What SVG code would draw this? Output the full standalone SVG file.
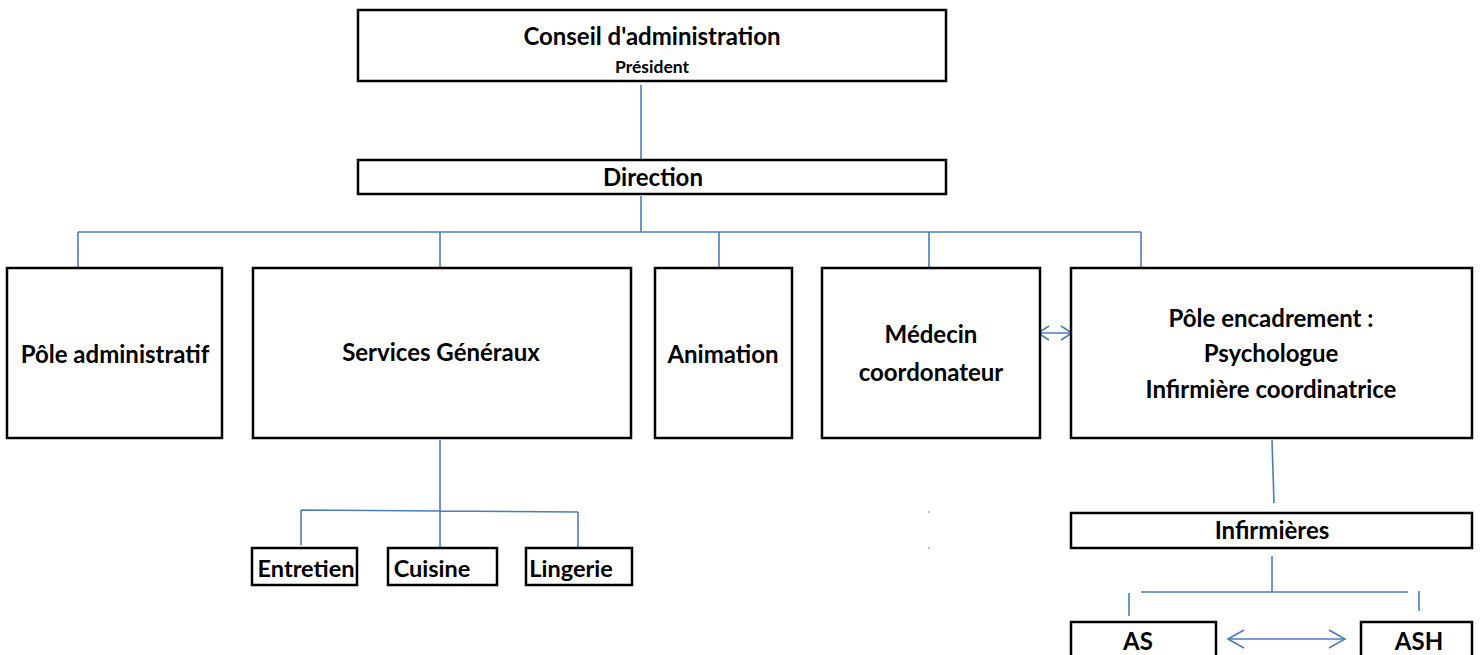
<svg xmlns="http://www.w3.org/2000/svg" width="1480" height="655" viewBox="0 0 1480 655">
<defs>
<style>
.box{fill:#fff;stroke:#000;stroke-width:2.5}
.t{font-family:Lato,"Liberation Sans",sans-serif;font-weight:bold;font-size:24px;fill:#000;text-anchor:middle}
.s{font-size:17.5px}
.m{font-size:23.5px}
.c{fill:none;stroke:#4a7ebb;stroke-width:1.6}
</style>
<marker id="ah" viewBox="0 0 20 20" refX="18" refY="10" markerWidth="20" markerHeight="20" markerUnits="userSpaceOnUse" orient="auto-start-reverse">
<path d="M2,1 L18,10 L2,19" fill="none" stroke="#4a7ebb" stroke-width="1.6"/>
</marker>
<marker id="ah2" viewBox="0 0 14 18" refX="12.5" refY="9" markerWidth="14" markerHeight="18" markerUnits="userSpaceOnUse" orient="auto-start-reverse">
<path d="M1.5,2 L12.5,9 L1.5,16" fill="none" stroke="#4a7ebb" stroke-width="1.6"/>
</marker>
</defs>
<rect width="1480" height="655" fill="#fff"/>
<g id="connectors">
<path class="c" d="M641,85 V160"/>
<path class="c" d="M641,196 V232 M78,232 H1141 M78,232 V268 M440,232 V268 M719,232 V268 M929,232 V268 M1141,232 V268"/>
<path class="c" d="M440,440 V548 M301,510 L578,512 M301,510 V545 M578,512 V548"/>
<path class="c" d="M1272,440 L1274,503"/>
<path class="c" d="M1272,556 V592 M1141,592 H1408 M1129,593 V616 M1419,591 V611"/>
<path class="c" d="M1038,333 H1072" marker-start="url(#ah2)" marker-end="url(#ah2)"/>
<path class="c" d="M1228,639 H1345" marker-start="url(#ah)" marker-end="url(#ah)"/>
<circle cx="929" cy="512" r="0.8" fill="#4a7ebb"/>
<circle cx="929" cy="548" r="0.8" fill="#4a7ebb"/>
</g>
<g id="conseil">
<rect class="box" x="358" y="10" width="588" height="71"/>
<text class="t" x="652" y="45">Conseil d'administration</text>
<text class="t s" x="652" y="73">Président</text>
</g>
<g id="direction">
<rect class="box" x="358" y="160" width="588" height="34"/>
<text class="t" x="653" y="186">Direction</text>
</g>
<g id="pole-admin">
<rect class="box" x="7" y="268" width="215" height="170"/>
<text class="t" x="115" y="363">Pôle administratif</text>
</g>
<g id="services">
<rect class="box" x="253" y="268" width="378" height="170"/>
<text class="t" x="441" y="361">Services Généraux</text>
</g>
<g id="animation">
<rect class="box" x="655" y="268" width="137" height="170"/>
<text class="t" x="723" y="363">Animation</text>
</g>
<g id="medecin">
<rect class="box" x="822" y="268" width="218" height="170"/>
<text class="t" x="931" y="343">Médecin</text>
<text class="t" x="931" y="381">coordonateur</text>
</g>
<g id="pole-encadrement">
<rect class="box" x="1071" y="268" width="401" height="170"/>
<text class="t" x="1271" y="327">Pôle encadrement :</text>
<text class="t" x="1271" y="362">Psychologue</text>
<text class="t" x="1271" y="398">Infirmière coordinatrice</text>
</g>
<g id="entretien">
<rect class="box" x="252" y="548" width="105" height="37"/>
<text class="t m" x="306" y="577">Entretien</text>
</g>
<g id="cuisine">
<rect class="box" x="388" y="548" width="109" height="37"/>
<text class="t m" x="432" y="577">Cuisine</text>
</g>
<g id="lingerie">
<rect class="box" x="526" y="548" width="106" height="37"/>
<text class="t m" x="571" y="577">Lingerie</text>
</g>
<g id="infirmieres">
<rect class="box" x="1071" y="513" width="401" height="35"/>
<text class="t" x="1272" y="539">Infirmières</text>
</g>
<g id="as">
<rect class="box" x="1071" y="622" width="145" height="40"/>
<text class="t" x="1138" y="650">AS</text>
</g>
<g id="ash">
<rect class="box" x="1361" y="622" width="111" height="40"/>
<text class="t" x="1419" y="650">ASH</text>
</g>
</svg>
